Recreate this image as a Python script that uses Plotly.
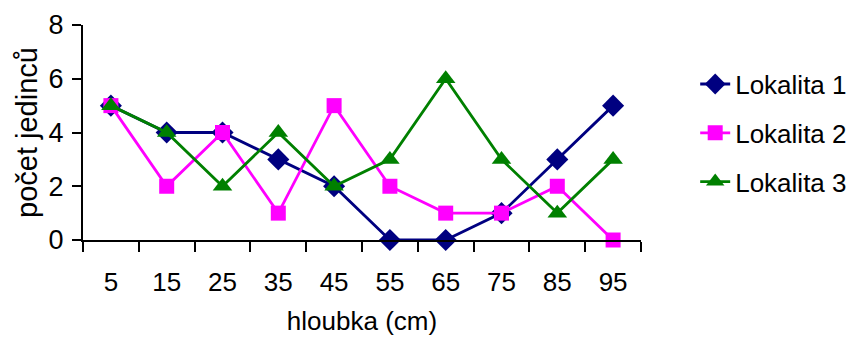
import plotly.graph_objects as go

# depth categories (cm) and individual counts per locality
hloubka = ["5", "15", "25", "35", "45", "55", "65", "75", "85", "95"]
lokalita_1 = [5, 4, 4, 3, 2, 0, 0, 1, 3, 5]
lokalita_2 = [5, 2, 4, 1, 5, 2, 1, 1, 2, 0]
lokalita_3 = [5, 4, 2, 4, 2, 3, 6, 3, 1, 3]
y_ticks = [0, 2, 4, 6, 8]

series = [
    ("Lokalita 1", lokalita_1, "#000080", "diamond", 17),
    ("Lokalita 2", lokalita_2, "#FF00FF", "square", 15),
    ("Lokalita 3", lokalita_3, "#008000", "triangle-up", 17),
]

fig = go.Figure()
for name, values, color, symbol, size in series:
    fig.add_trace(go.Scatter(
        x=hloubka, y=values, name=name, legendgroup=name,
        mode="lines+markers",
        line=dict(color=color, width=2.8),
        marker=dict(symbol=symbol, size=size, color=color),
        cliponaxis=False,
    ))

family = "Liberation Sans, Arial, sans-serif"
font = dict(family=family, size=26, color="black")

fig.update_layout(
    width=853, height=354,
    margin=dict(l=83, r=212, t=25, b=114, autoexpand=False),
    paper_bgcolor="white", plot_bgcolor="white",
    font=font,
    showlegend=True,
    legend=dict(
        xref="container", yref="container",
        x=0.815, y=0.624, xanchor="left", yanchor="middle",
        font=font, tracegroupgap=12, bgcolor="rgba(0,0,0,0)",
    ),
    xaxis=dict(
        type="category", range=[-0.5, len(hloubka) - 0.5], automargin=False,
        showline=True, linecolor="black", linewidth=2,
        ticks="outside", tickson="boundaries", ticklen=10, tickwidth=2, tickcolor="black",
        ticklabelstandoff=18,
        showgrid=False, zeroline=False,
        tickfont=font,
        title=dict(text="hloubka (cm)", standoff=16, font=font),
    ),
    yaxis=dict(
        range=[0, 8], tickvals=y_ticks, automargin=False,
        showline=True, linecolor="black", linewidth=2,
        ticks="outside", ticklen=9, tickwidth=2, tickcolor="black",
        ticklabelstandoff=3,
        showgrid=False, zeroline=False,
        tickfont=dict(family=family, size=27, color="black"),
        title=dict(text="počet jedinců", standoff=2,
                   font=dict(family=family, size=29, color="black")),
    ),
)

fig.write_html("out.html")
